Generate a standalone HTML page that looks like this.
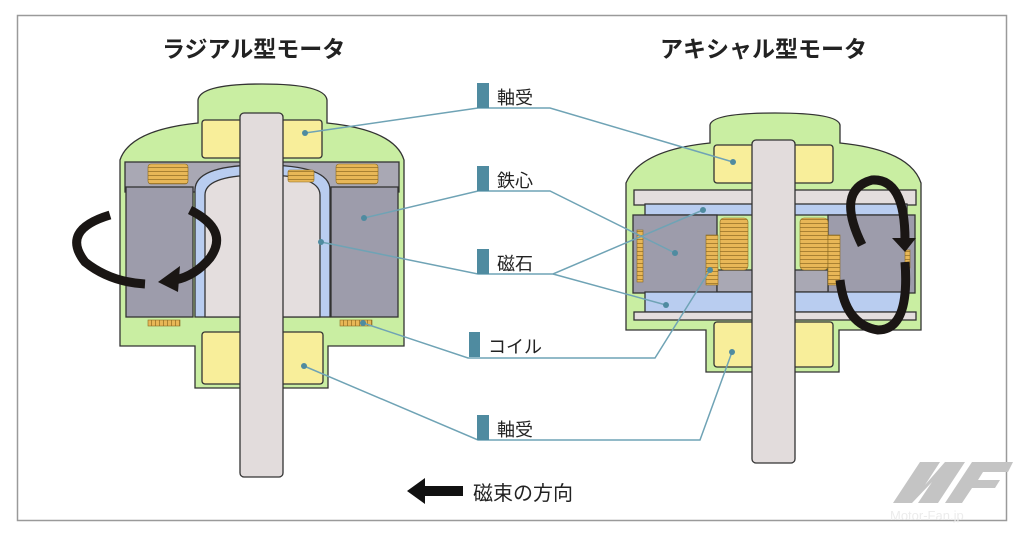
<!DOCTYPE html>
<html><head><meta charset="utf-8"><style>
html,body{margin:0;padding:0;background:#fff;}
svg{display:block;}
text{font-family:"Liberation Sans","Noto Sans CJK JP",sans-serif;fill:#222;}
</style></head><body>
<svg width="1024" height="539" viewBox="0 0 1024 539" xmlns="http://www.w3.org/2000/svg">
<defs>
<pattern id="ch" width="4" height="4" patternUnits="userSpaceOnUse"><rect width="4" height="4" fill="#e8b757"/><line x1="0" y1="3.5" x2="4" y2="3.5" stroke="#9a7428" stroke-width="0.8"/></pattern>
<pattern id="cv" width="4" height="4" patternUnits="userSpaceOnUse"><rect width="4" height="4" fill="#e8b757"/><line x1="3.5" y1="0" x2="3.5" y2="4" stroke="#9a7428" stroke-width="0.8"/></pattern>
</defs>
<rect x="17.5" y="15.5" width="989" height="505" fill="#fff" stroke="#9a9a9a" stroke-width="1.5"/>
<text x="162" y="57" font-size="23" font-weight="bold">ラジアル型モータ</text>
<text x="660" y="57" font-size="23" font-weight="bold">アキシャル型モータ</text>

<!-- LEFT MOTOR -->
<g stroke="#333" stroke-width="1.3">
<path d="M198,123 L198,100 Q200,84 262,84 Q325,84 327,100 L327,123 Q395,130 404,160 L404,346 L328,346 L328,388 L195,388 L195,346 L120,346 L120,160 Q130,130 198,123 Z" fill="#c9eea2"/>
<rect x="202" y="120" width="120" height="38" rx="3" fill="#f8ee9a"/>
<rect x="125" y="162" width="274" height="30" fill="#a9a8b4"/>
<rect x="126" y="187" width="67" height="130" fill="#9d9cab"/>
<rect x="331" y="187" width="67" height="130" fill="#9d9cab"/>
<path d="M195,317 L195,190 Q195,165 262,165 Q330,165 330,190 L330,317 Z" fill="#b9cdf0"/>
<path d="M205,317 L205,195 Q205,175 262,175 Q320,175 320,195 L320,317 Z" fill="#e4dede"/>
<rect x="202" y="332" width="121" height="52" rx="3" fill="#f8ee9a"/>
<rect x="240" y="113" width="43" height="364" rx="4" fill="#e2dcdc"/>
</g>
<g fill="url(#ch)" stroke="#8a6a20" stroke-width="0.6">
<rect x="148" y="164" width="40" height="20" rx="3"/>
<rect x="288" y="170" width="26" height="12" rx="2"/>
<rect x="336" y="164" width="42" height="20" rx="3"/>
</g>
<g fill="url(#cv)" stroke="#8a6a20" stroke-width="0.6">
<rect x="148" y="320" width="32" height="6"/>
<rect x="340" y="320" width="32" height="6"/>
</g>
<!-- rotation arrow left -->
<path d="M110,215 Q60,230 85,262 Q110,282 145,284" fill="none" stroke="#1a1614" stroke-width="9"/>
<path d="M190,210 Q230,230 210,258 Q195,276 175,280" fill="none" stroke="#1a1614" stroke-width="9"/>
<polygon points="158,282 180,266 178,292" fill="#1a1614"/>

<!-- RIGHT MOTOR -->
<g stroke="#333" stroke-width="1.3">
<path d="M710,143 L710,125 Q712,113 775,113 Q838,113 840,125 L840,143 Q910,150 921,183 L921,330 L839,330 L839,372 L706,372 L706,330 L626,330 L626,183 Q640,150 710,143 Z" fill="#c9eea2"/>
<rect x="714" y="145" width="119" height="38" rx="3" fill="#f8ee9a"/>
<rect x="634" y="190" width="282" height="15" fill="#e4dede"/>
<rect x="645" y="204" width="262" height="11" fill="#b9cdf0"/>
<rect x="633" y="215" width="84" height="78" fill="#9d9cab"/>
<rect x="828" y="215" width="87" height="78" fill="#9d9cab"/>
<rect x="717" y="270" width="111" height="22" fill="#a9a8b4"/>
<path d="M645,292 L905,292 L905,312 L645,312 Z" fill="#b9cdf0"/>
<rect x="634" y="312" width="282" height="8" fill="#e4dede"/>
<rect x="714" y="322" width="119" height="45" rx="3" fill="#f8ee9a"/>
<rect x="752" y="140" width="43" height="323" rx="4" fill="#e2dcdc"/>
</g>
<g fill="url(#ch)" stroke="#8a6a20" stroke-width="0.6">
<rect x="637" y="230" width="6" height="52"/>
<rect x="706" y="235" width="12" height="50"/>
<rect x="720" y="218" width="28" height="52" rx="4"/>
<rect x="800" y="218" width="28" height="52" rx="4"/>
<rect x="828" y="235" width="12" height="50"/>
<rect x="905" y="250" width="5" height="18"/>
</g>
<!-- rotation arrow right -->
<path d="M862,245 Q835,190 872,180 Q905,178 905,240" fill="none" stroke="#1a1614" stroke-width="9"/>
<path d="M905,262 Q910,330 878,330 Q845,325 840,280" fill="none" stroke="#1a1614" stroke-width="9"/>
<polygon points="892,238 916,238 905,252" fill="#1a1614"/>

<!-- leader lines -->
<g fill="none" stroke="#6fa3b5" stroke-width="1.5">
<polyline points="305,133 478,108 550,108 733,162"/>
<polyline points="364,218 478,191 550,191 675,253"/>
<polyline points="321,242 478,274 553,274 703,210"/>
<line x1="553" y1="274" x2="666" y2="305"/>
<polyline points="363,323 468,358 655,358 710,270"/>
<polyline points="304,366 478,440 700,440 732,352"/>
</g>
<g fill="#4f8ba0">
<circle cx="305" cy="133" r="3"/><circle cx="364" cy="218" r="3"/><circle cx="321" cy="242" r="3"/>
<circle cx="363" cy="323" r="3"/><circle cx="304" cy="366" r="3"/>
<circle cx="733" cy="162" r="3"/><circle cx="675" cy="253" r="3"/><circle cx="703" cy="210" r="3"/>
<circle cx="666" cy="305" r="3"/><circle cx="710" cy="270" r="3"/><circle cx="732" cy="352" r="3"/>
</g>
<g fill="#4f8ba0">
<rect x="477" y="83" width="12" height="25"/>
<rect x="477" y="166" width="12" height="25"/>
<rect x="477" y="249" width="12" height="25"/>
<rect x="469" y="332" width="11" height="25"/>
<rect x="477" y="415" width="12" height="25"/>
</g>
<g font-size="18">
<text x="497" y="104">軸受</text>
<text x="497" y="187">鉄心</text>
<text x="497" y="270">磁石</text>
<text x="488" y="353">コイル</text>
<text x="497" y="436">軸受</text>
</g>
<!-- flux arrow -->
<polygon points="407,491 425,478 425,486 463,486 463,496 425,496 425,504" fill="#111"/>
<text x="473" y="500" font-size="20">磁束の方向</text>
<!-- watermark -->
<g fill="#c4c4c4">
<polygon points="893,503 920,462 940,462 925,485 945,462 965,462 938,503 918,503 932,482 912,503"/>
<polygon points="945,503 972,462 1013,462 1008,472 983,472 978,480 1000,480 995,488 972,488 962,503"/>
</g>
<text x="890" y="520" font-size="13" style="fill:#ececec">Motor-Fan.jp</text>
</svg>
</body></html>
